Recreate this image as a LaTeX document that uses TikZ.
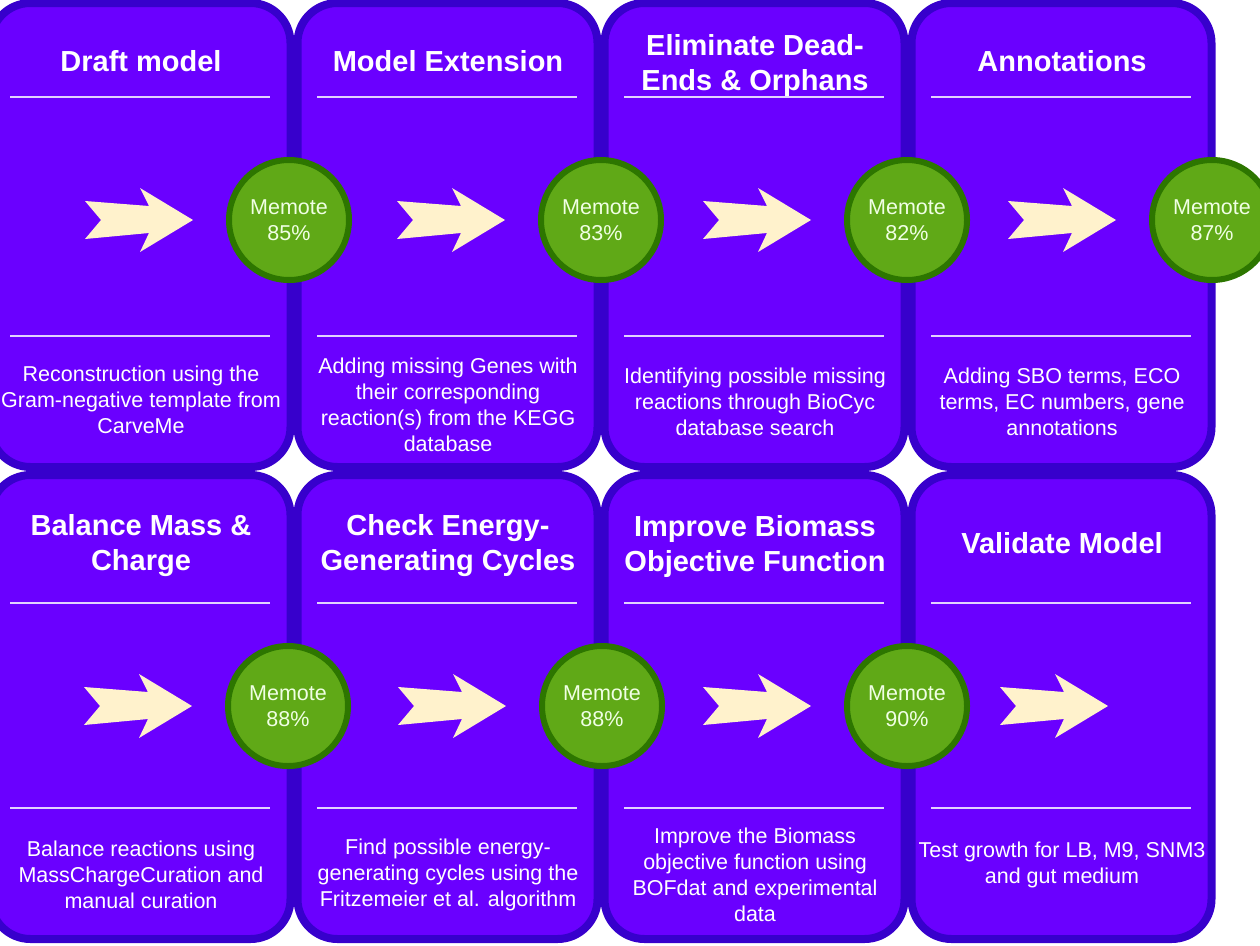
\documentclass[tikz,border=0pt]{standalone}
\usepackage{fontspec}
\setmainfont{Liberation Sans}
\usetikzlibrary{positioning}

\definecolor{stepfill}{HTML}{6A00FF}
\definecolor{stepline}{HTML}{3700CC}
\definecolor{rulecol}{HTML}{E2D2FF}
\definecolor{scorefill}{HTML}{60A917}
\definecolor{scoreline}{HTML}{2D7600}
\definecolor{scoretext}{HTML}{F0FFE4}
\definecolor{flowfill}{HTML}{FFF2CC}

\tikzset{
  stepbox/.style={draw=stepline, fill=stepfill, line width=8pt, rounded corners=40pt},
  steptitle/.style={text=white, font=\fontsize{29}{35}\selectfont\bfseries, align=center, inner sep=0pt},
  stepnote/.style={text=white, font=\fontsize{21.5}{26}\selectfont, align=center, inner sep=0pt},
  steprule/.style={draw=rulecol, line width=2pt},
  score/.style={circle, draw=scoreline, fill=scorefill, line width=6pt, minimum size=120pt,
    inner sep=0pt, text=scoretext, font=\fontsize{21.5}{26}\selectfont, align=center},
  flow/.style={fill=flowfill},
}

% block arrow, tip at #1
\newcommand\flowarrow[1]{\fill[flow] (#1) -- ++(-53,-32) -- ++(9,18) -- ++(-64,-5)
  -- ++(16,19) -- ++(-16,19) -- ++(64,-6) -- ++(-9,19) -- cycle;}

\begin{document}
\begin{tikzpicture}[x=1pt,y=-1pt]
\useasboundingbox (0,0) rectangle (1260,945);

\foreach \row in {0,1}
  \foreach \k in {0,...,3}
    \draw[stepbox] ({-9.5+307*\k},{3+472*\row}) rectangle ++(300,464);

% top row
\foreach \k/\ttl/\hy/\ny/\txt in {
  0/{Draft model}/61/400/{Reconstruction using the\\Gram-negative template from\\CarveMe},
  1/{Model Extension}/61/405/{Adding missing Genes with\\their corresponding\\reaction(s) from the KEGG\\database},
  2/{Eliminate Dead-\\Ends \& Orphans}/65/402/{Identifying possible missing\\reactions through BioCyc\\database search},
  3/{Annotations}/61/402/{Adding SBO terms, ECO\\terms, EC numbers, gene\\annotations}}
{
  \node[steptitle] (head-a\k) at ({141+307*\k},\hy) {\ttl};
  \draw[steprule] ({10+307*\k},97) -- ++(260,0);
  \draw[steprule] ({10+307*\k},336) -- ++(260,0);
  \node[stepnote] (note-a\k) at ({141+307*\k},\ny) {\txt};
}

% bottom row
\foreach \k/\ttl/\hy/\ny/\txt in {
  0/{Balance Mass \&\\Charge}/546/875/{Balance reactions using\\MassChargeCuration and\\manual curation},
  1/{Check Energy-\\Generating Cycles}/546/875/{Find possible energy-\\generating cycles using the\\Fritzemeier et al. algorithm},
  2/{Improve Biomass\\Objective Function}/546/875/{Improve the Biomass\\objective function using\\BOFdat and experimental\\data},
  3/{Validate Model}/543/865/{Test growth for LB, M9, SNM3\\and gut medium}}
{
  \node[steptitle] (head-b\k) at ({141+307*\k},\hy) {\ttl};
  \draw[steprule] ({10+307*\k},603) -- ++(260,0);
  \draw[steprule] ({10+307*\k},808) -- ++(260,0);
  \node[stepnote] (note-b\k) at ({141+307*\k},\ny) {\txt};
}

% memote scores
\foreach \k/\mx/\pct in {0/289/85, 1/601/83, 2/907/82, 3/1212/87}
{
  \node[score] (memote-a\k) at (\mx,220) {Memote\\\pct\%};
  \coordinate[left=33pt of memote-a\k] (tip-a\k);
  \flowarrow{tip-a\k}
}
\foreach \k/\mx/\pct in {0/288/88, 1/602/88, 2/907/90}
{
  \node[score] (memote-b\k) at (\mx,706) {Memote\\\pct\%};
  \coordinate[left=33pt of memote-b\k] (tip-b\k);
  \flowarrow{tip-b\k}
}
\coordinate (tip-b3) at (1108,706);
\flowarrow{tip-b3}
\end{tikzpicture}
\end{document}
